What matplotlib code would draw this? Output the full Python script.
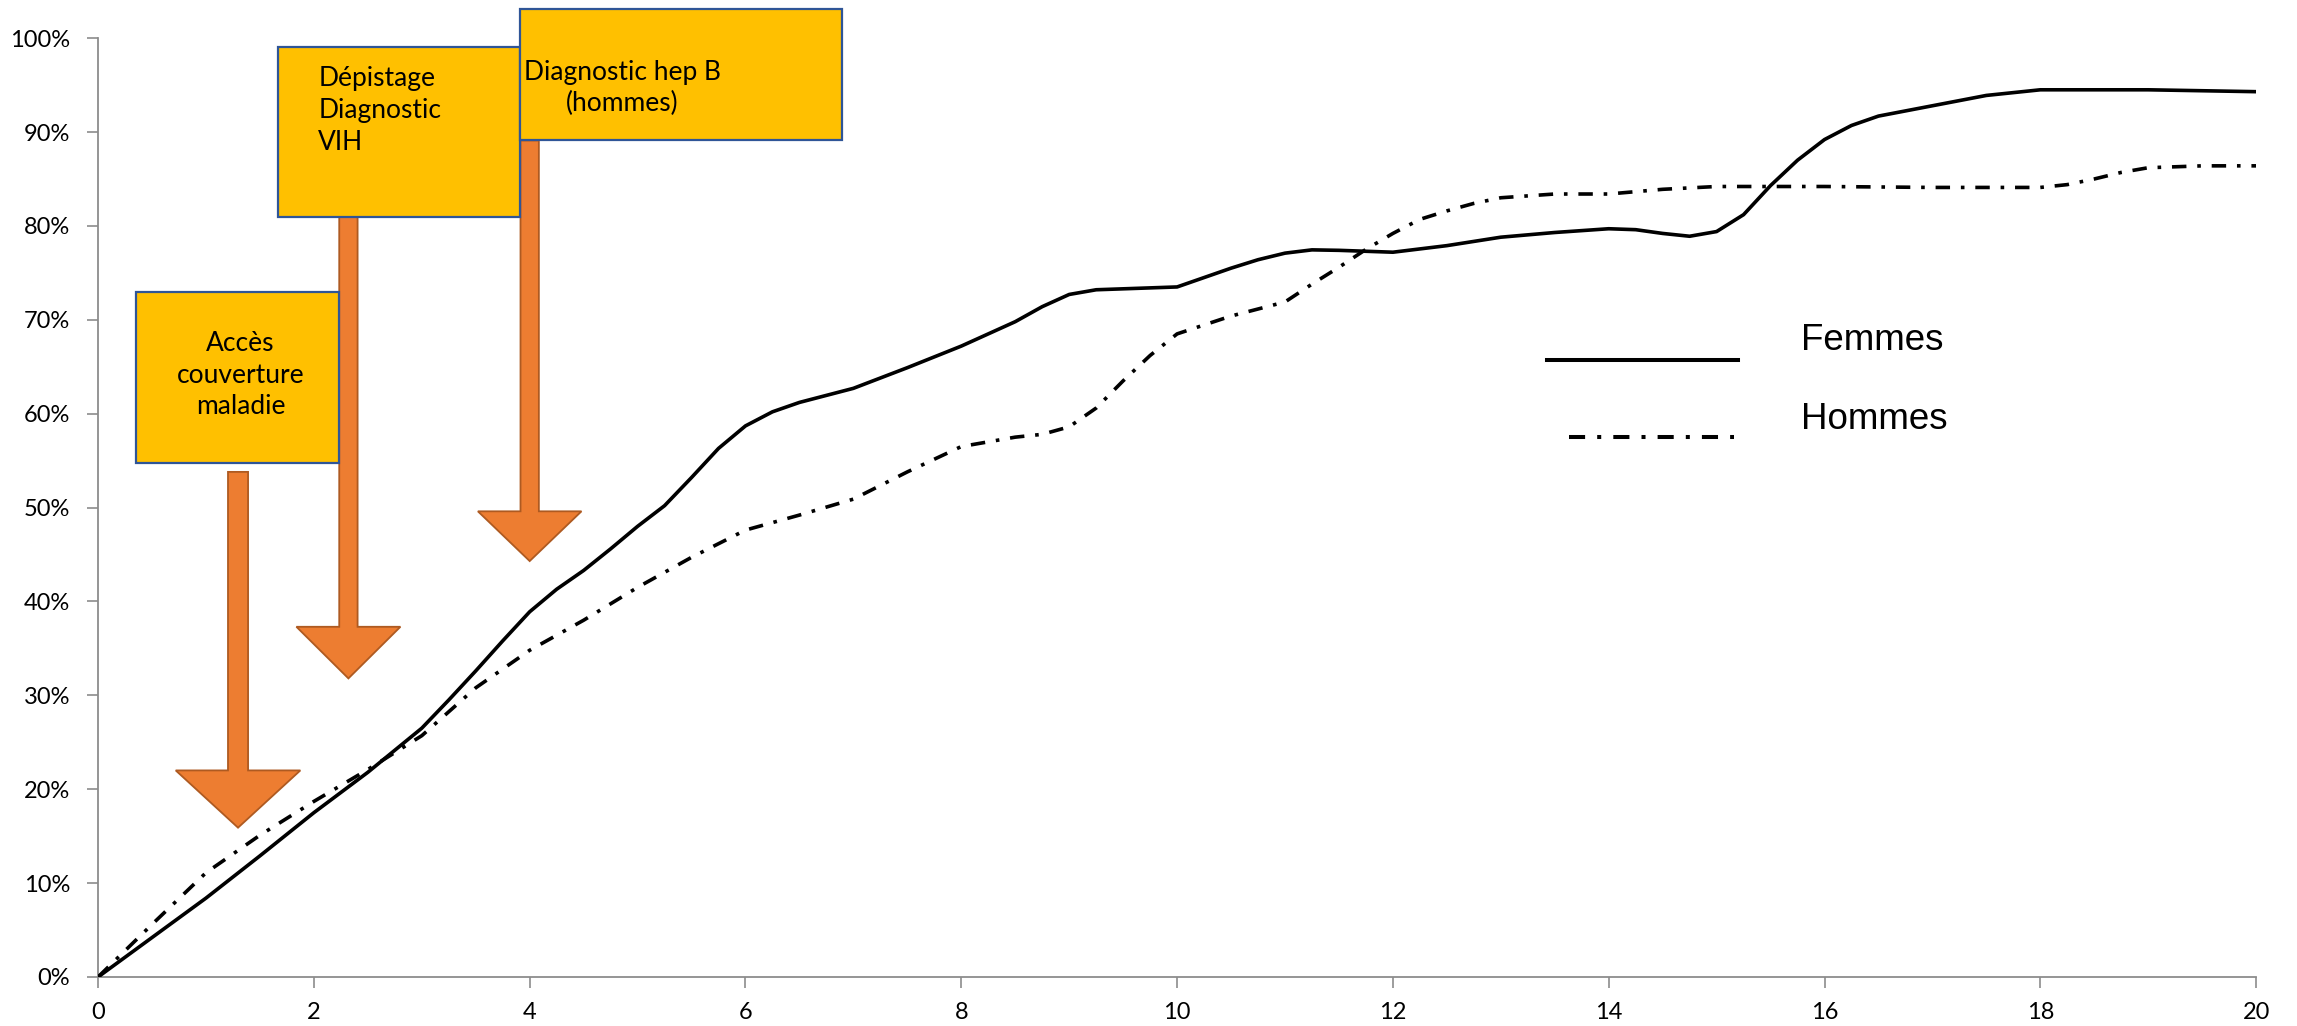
import matplotlib
matplotlib.use("Agg")
import numpy as np
import matplotlib.pyplot as plt
from matplotlib.legend_handler import HandlerLine2D
from matplotlib.patches import Rectangle, FancyArrow
from matplotlib.ticker import PercentFormatter

# cumulative share (%) against years since arrival
femmes_x = [0, 0.5, 1, 1.5, 2, 2.5, 3, 3.25, 3.5, 3.75, 4, 4.25, 4.5, 4.75, 5,
            5.25, 5.5, 5.75, 6, 6.25, 6.5, 7, 7.5, 8, 8.5, 8.75, 9, 9.25, 9.5,
            10, 10.5, 10.75, 11, 11.25, 11.5, 12, 12.5, 13, 13.5, 14, 14.25,
            14.5, 14.75, 15, 15.25, 15.5, 15.75, 16, 16.25, 16.5, 17, 17.5, 18,
            19, 20]
femmes = [0, 4.2, 8.4, 12.9, 17.5, 21.8, 26.5, 29.5, 32.6, 35.8, 38.9, 41.3, 43.3,
          45.6, 48.0, 50.2, 53.2, 56.3, 58.7, 60.2, 61.2, 62.7, 64.9, 67.2, 69.8,
          71.4, 72.7, 73.2, 73.3, 73.5, 75.5, 76.4, 77.1, 77.45, 77.4, 77.2, 77.9,
          78.8, 79.3, 79.7, 79.6, 79.2, 78.9, 79.4, 81.2, 84.3, 87.0, 89.2, 90.7,
          91.7, 92.8, 93.9, 94.5, 94.5, 94.3]

hommes_x = [0, 0.5, 1, 1.5, 2, 2.5, 3, 3.5, 4, 4.5, 5, 5.5, 6, 6.5, 7, 7.5, 8,
            8.5, 8.75, 9, 9.25, 9.5, 9.75, 10, 10.5, 11, 11.25, 11.5, 11.75, 12,
            12.25, 12.5, 12.75, 13, 13.5, 14, 14.5, 15, 16, 17, 18, 18.25, 18.5,
            18.75, 19, 19.5, 20]
hommes = [0, 5.6, 11.1, 15.1, 18.7, 22.1, 25.7, 30.8, 34.8, 38.0, 41.5, 44.7, 47.6,
          49.2, 50.9, 53.8, 56.5, 57.5, 57.8, 58.6, 60.6, 63.5, 66.2, 68.5, 70.4,
          71.9, 73.8, 75.6, 77.5, 79.2, 80.7, 81.6, 82.4, 83.0, 83.4, 83.4, 83.9,
          84.2, 84.2, 84.1, 84.1, 84.4, 85.0, 85.7, 86.2, 86.4, 86.4]

# annotation boxes: (text, x0, x1, y0, y1, text x, text y, alignment)
events = [
    ("Accès\ncouverture\nmaladie", 0.352, 2.231, 54.7, 73.0, 1.32, 64.1, "center"),
    ("Dépistage\nDiagnostic\nVIH", 1.672, 3.906, 81.0, 99.1, 2.04, 92.3, "left"),
    ("Diagnostic hep B\n(hommes)", 3.906, 6.896, 89.1, 103.1, 4.86, 94.7, "center"),
]
# arrows: (centre x, top y, tip y, head length, shaft width, head width)
arrows = [
    (1.297, 53.8, 15.9, 6.1, 0.186, 1.155),
    (2.32, 81.0, 31.8, 5.5, 0.17, 0.964),
    (4.0, 89.1, 44.3, 5.3, 0.17, 0.96),
]

BOX_FILL = "#FFC000"
BOX_EDGE = "#2F5597"
ARROW_FILL = "#ED7D31"
ARROW_EDGE = "#AE5A21"
TEXT_FONT = ["Lato", "DejaVu Sans"]


class LoweredLine(HandlerLine2D):
    """Legend key drawn a little below the label, optionally trimmed."""

    def __init__(self, dy, trim_left=0.0, trim_right=0.0, **kw):
        super().__init__(**kw)
        self.dy = dy
        self.trim_left = trim_left
        self.trim_right = trim_right

    def create_artists(self, legend, orig_handle, xdescent, ydescent, width,
                       height, fontsize, trans):
        artists = super().create_artists(legend, orig_handle, xdescent, ydescent,
                                         width, height, fontsize, trans)
        for a in artists:
            xd = np.asarray(a.get_xdata(), dtype=float)
            a.set_xdata([xd.min() + self.trim_left, xd.max() - self.trim_right])
            a.set_ydata(np.asarray(a.get_ydata(), dtype=float)[:2] - self.dy)
        return artists


fig = plt.figure(figsize=(22.97, 10.26), dpi=100)
ax = fig.add_axes([0.0427, 0.0478, 0.9395, 0.915])

dashdot = (0, (4, 3, 1, 3))
l_f, = ax.plot(femmes_x, femmes, color="black", lw=2.6, zorder=5, label="Femmes")
l_h, = ax.plot(hommes_x, hommes, color="black", lw=2.6, ls=dashdot,
               dash_capstyle="butt", zorder=5, label="Hommes")

for cx, top, tip, hl, w, hw in arrows:
    ax.add_patch(FancyArrow(cx, top, 0, tip - top, width=w, head_width=hw,
                            head_length=hl, length_includes_head=True,
                            facecolor=ARROW_FILL, edgecolor=ARROW_EDGE, lw=1.3,
                            zorder=2, clip_on=False))

for text, x0, x1, y0, y1, tx, ty, align in events:
    ax.add_patch(Rectangle((x0, y0), x1 - x0, y1 - y0, facecolor=BOX_FILL,
                           edgecolor=BOX_EDGE, lw=1.6, zorder=3, clip_on=False))
    ax.text(tx, ty, text, ha=align, va="center", multialignment=align,
            fontsize=19, family=TEXT_FONT, linespacing=1.33, zorder=4,
            clip_on=False)

ax.set_xlim(0, 20)
ax.set_ylim(0, 100)
ax.set_xticks(range(0, 21, 2))
ax.set_yticks(range(0, 101, 10))
ax.yaxis.set_major_formatter(PercentFormatter(decimals=0))

for side in ("top", "right"):
    ax.spines[side].set_visible(False)
for side in ("left", "bottom"):
    ax.spines[side].set_color("#8C8C8C")
    ax.spines[side].set_linewidth(1.3)
ax.tick_params(direction="out", length=8, width=1.2, color="#8C8C8C",
               labelsize=17, labelcolor="black")
ax.tick_params(axis="x", pad=10)
ax.tick_params(axis="y", pad=12)
for lbl in ax.get_xticklabels() + ax.get_yticklabels():
    lbl.set_family(TEXT_FONT)

leg = ax.legend(loc="center left", bbox_to_anchor=(0.6591, 0.63),
                bbox_transform=fig.transFigure, frameon=False,
                prop={"family": "Liberation Sans", "size": 26.5},
                handlelength=5.2, handletextpad=1.7, labelspacing=1.19,
                handler_map={l_f: LoweredLine(16.8),
                             l_h: LoweredLine(15.7, trim_left=15.5, trim_right=3)})
for line in leg.get_lines():
    line.set_linewidth(2.9)

fig.savefig("out.png", dpi=100)
